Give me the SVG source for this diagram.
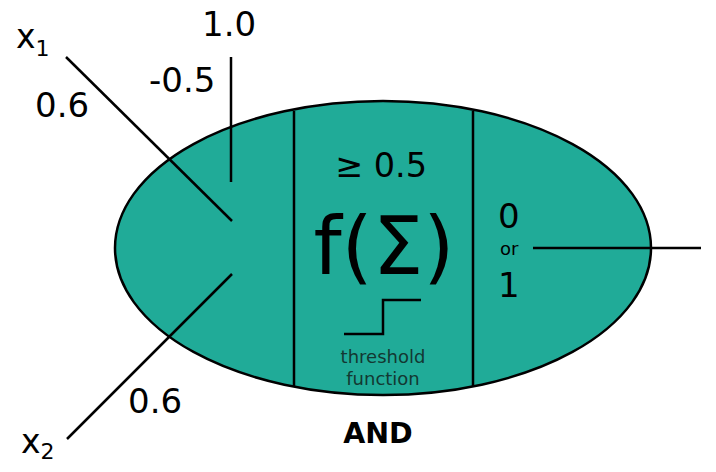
<svg xmlns="http://www.w3.org/2000/svg" width="716" height="472" viewBox="0 0 716 472">
<style>
.t{font-family:"DejaVu Sans","Liberation Sans",sans-serif;fill:#000}
.ln{stroke:#000;stroke-width:2.5;fill:none}
.small{fill:#133832}
</style>
<rect width="716" height="472" fill="#fff"/>
<g id="neuron">
<ellipse cx="383" cy="248" rx="268" ry="147" fill="#20ab98" stroke="#000" stroke-width="2.5"/>
<line class="ln" x1="294" y1="111" x2="294" y2="386"/>
<line class="ln" x1="473" y1="111" x2="473" y2="386"/>
</g>
<g id="connectors">
<line class="ln" x1="66" y1="57" x2="232" y2="221"/>
<line class="ln" x1="67" y1="439" x2="232" y2="274"/>
<line class="ln" x1="231" y1="57" x2="231" y2="182"/>
<line class="ln" x1="533" y1="248" x2="701" y2="248"/>
</g>
<g id="inputs">
<text class="t" x="16" y="48" font-size="33">x<tspan font-size="22" dy="8">1</tspan></text>
<text class="t" x="21" y="453" font-size="33">x<tspan font-size="22" dy="6">2</tspan></text>
<text class="t" x="35" y="117" font-size="34">0.6</text>
<text class="t" x="128" y="413" font-size="34">0.6</text>
<text class="t" x="202" y="36" font-size="34">1.0</text>
<text class="t" x="149" y="92" font-size="34">-0.5</text>
</g>
<g id="function">
<text class="t" x="381" y="177" font-size="33.5" text-anchor="middle">≥ 0.5</text>
<text class="t" x="384" y="274" font-size="80" text-anchor="middle">f(Σ)</text>
<polyline class="ln" points="344,334 383,334 383,300 421,300"/>
<text class="t small" x="383" y="363" font-size="18" text-anchor="middle">threshold</text>
<text class="t small" x="383" y="385" font-size="18" text-anchor="middle">function</text>
</g>
<g id="output">
<text class="t" x="498" y="228" font-size="34">0</text>
<text class="t" x="500" y="255" font-size="18">or</text>
<text class="t" x="498" y="297" font-size="34">1</text>
</g>
<text class="t" x="378" y="443" font-size="28.5" font-weight="bold" text-anchor="middle">AND</text>
</svg>
